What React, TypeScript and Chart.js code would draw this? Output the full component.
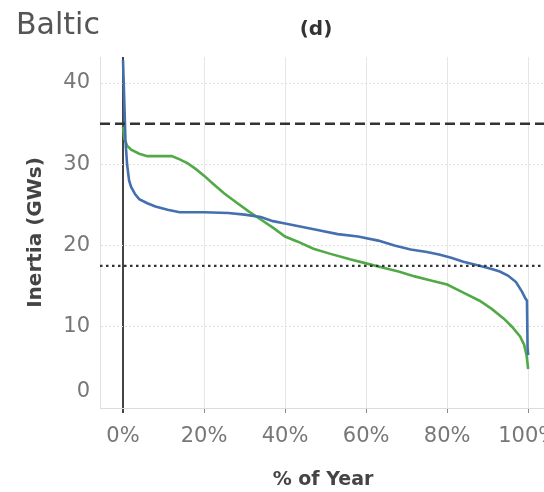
import React, { useEffect, useRef } from 'react';
import { Chart, registerables } from 'chart.js';

Chart.register(...registerables);

const FONT = "'DejaVu Sans', 'Open Sans', sans-serif";

const chartTitle = 'Baltic';
const panelLabel = '(d)';
const xTitle = '% of Year';
const yTitle = 'Inertia (GWs)';

const xTicks = [0, 20, 40, 60, 80, 100];
const yTicks = [0, 10, 20, 30, 40];
const xRange = [-5.68, 104.4];
const yRange = [0, 43.2];

const upperLimit = 35;
const lowerLimit = 17.5;

const blueX = [0, 0.3, 0.6, 1.0, 1.5, 2, 3, 4, 6, 8, 11, 14, 20, 26, 30, 34, 37, 40, 44, 48, 53, 58, 63, 67, 71, 75, 78, 81, 84, 88, 91, 93, 95, 97, 98.5, 99.3, 99.7, 99.85, 100];
const blueY = [42.8, 38, 33, 30, 28, 27.2, 26.3, 25.7, 25.2, 24.8, 24.4, 24.1, 24.1, 24.0, 23.8, 23.5, 23.0, 22.7, 22.3, 21.9, 21.4, 21.1, 20.6, 20.0, 19.5, 19.2, 18.9, 18.5, 18.0, 17.5, 17.1, 16.8, 16.3, 15.5, 14.3, 13.5, 13.2, 7.5, 6.5];

const greenX = [0, 0.3, 1, 2, 4, 6, 12, 14, 16, 18, 20, 22, 25, 28, 31, 34, 37, 40, 43, 47, 51, 56, 60, 64, 68, 72, 76, 80, 84, 88, 91, 94, 96, 98, 99, 99.6, 100];
const greenY = [34.6, 33.2, 32.3, 31.8, 31.3, 31.0, 31.0, 30.6, 30.1, 29.4, 28.6, 27.7, 26.4, 25.3, 24.2, 23.2, 22.2, 21.1, 20.5, 19.6, 19.0, 18.3, 17.8, 17.3, 16.8, 16.2, 15.7, 15.2, 14.2, 13.2, 12.2, 11.0, 10.0, 8.8, 7.8, 6.5, 4.8];

const headerPlugin = {
  id: 'headerText',
  afterDraw(chart: any) {
    const ctx = chart.ctx;
    ctx.save();
    ctx.textBaseline = 'alphabetic';
    ctx.fillStyle = '#555';
    ctx.font = `30px ${FONT}`;
    ctx.textAlign = 'left';
    ctx.fillText(chartTitle, 16, 34);
    ctx.fillStyle = '#333';
    ctx.font = `bold 20px ${FONT}`;
    ctx.textAlign = 'center';
    ctx.fillText(panelLabel, 316, 35);
    ctx.restore();
  },
};

export default function App() {
  const ref = useRef<HTMLCanvasElement | null>(null);

  useEffect(() => {
    if (!ref.current) return;
    const isZero = (c: any) => c && c.tick && c.tick.value === 0;
    const chart = new Chart(ref.current, {
      type: 'line',
      data: {
        datasets: [
          {
            data: [{ x: xRange[0], y: upperLimit }, { x: xRange[1], y: upperLimit }],
            borderColor: '#333',
            borderWidth: 2.5,
            borderDash: [10, 5],
            pointRadius: 0,
          },
          {
            data: [{ x: xRange[0], y: lowerLimit }, { x: xRange[1], y: lowerLimit }],
            borderColor: '#333',
            borderWidth: 2.2,
            borderDash: [2.5, 3.5],
            pointRadius: 0,
          },
          {
            data: blueX.map((x, i) => ({ x, y: blueY[i] })),
            borderColor: '#4470b0',
            borderWidth: 2.6,
            pointRadius: 0,
          },
          {
            data: greenX.map((x, i) => ({ x, y: greenY[i] })),
            borderColor: '#52a947',
            borderWidth: 2.6,
            pointRadius: 0,
          },
        ],
      },
      options: {
        animation: false,
        responsive: true,
        maintainAspectRatio: false,
        layout: { padding: { left: 0, right: 54, top: 57, bottom: 0 } },
        plugins: { legend: { display: false }, tooltip: { enabled: false } },
        scales: {
          x: {
            type: 'linear',
            min: xRange[0],
            max: xRange[1],
            afterBuildTicks: (s: any) => {
              s.ticks = xTicks.map((v) => ({ value: v }));
            },
            afterFit: (s: any) => {
              s.height = 84;
            },
            ticks: {
              callback: (v: any) => `${v}%`,
              font: { family: FONT, size: 21, lineHeight: 1.2 },
              color: '#777',
              padding: 11,
              maxRotation: 0,
              autoSkip: false,
            },
            grid: {
              color: (c: any) => (isZero(c) ? '#444' : '#e6e6e6'),
              lineWidth: (c: any) => (isZero(c) ? 2 : 1),
              drawTicks: true,
              tickLength: 5,
              tickColor: (c: any) => (isZero(c) ? '#444' : '#888'),
              tickWidth: (c: any) => (isZero(c) ? 2 : 1),
            },
            border: { display: true, color: '#dcdcdc', width: 1 },
            title: {
              display: true,
              text: xTitle,
              font: { family: FONT, size: 19, weight: 'bold', lineHeight: 1.2 },
              color: '#444',
              padding: { top: 0, bottom: 1 },
            },
          },
          y: {
            type: 'linear',
            min: yRange[0],
            max: yRange[1],
            afterBuildTicks: (s: any) => {
              s.ticks = yTicks.map((v) => ({ value: v }));
            },
            afterFit: (s: any) => {
              s.width = 100;
            },
            ticks: {
              callback: (v: any) => (v === 0 ? [String(v), ''] : String(v)),
              font: { family: FONT, size: 21, lineHeight: '32px' },
              color: '#777',
              padding: 10,
            },
            grid: {
              color: '#e0e0e0',
              lineWidth: 1,
              drawTicks: false,
            },
            border: { display: true, color: '#e0e0e0', width: 1, dash: [2, 2] },
            title: {
              display: true,
              text: yTitle,
              font: { family: FONT, size: 20, weight: 'bold', lineHeight: 1.2 },
              color: '#444',
              padding: { top: 24, bottom: 0 },
            },
          },
        },
      },
      plugins: [headerPlugin],
    } as any);
    return () => chart.destroy();
  }, []);

  return (
    <div style={{ position: 'absolute', left: 0, top: 0, width: 544, height: 492, overflow: 'hidden', background: '#fff' }}>
      <div style={{ position: 'relative', width: 600, height: 492 }}>
        <canvas ref={ref} />
      </div>
    </div>
  );
}
